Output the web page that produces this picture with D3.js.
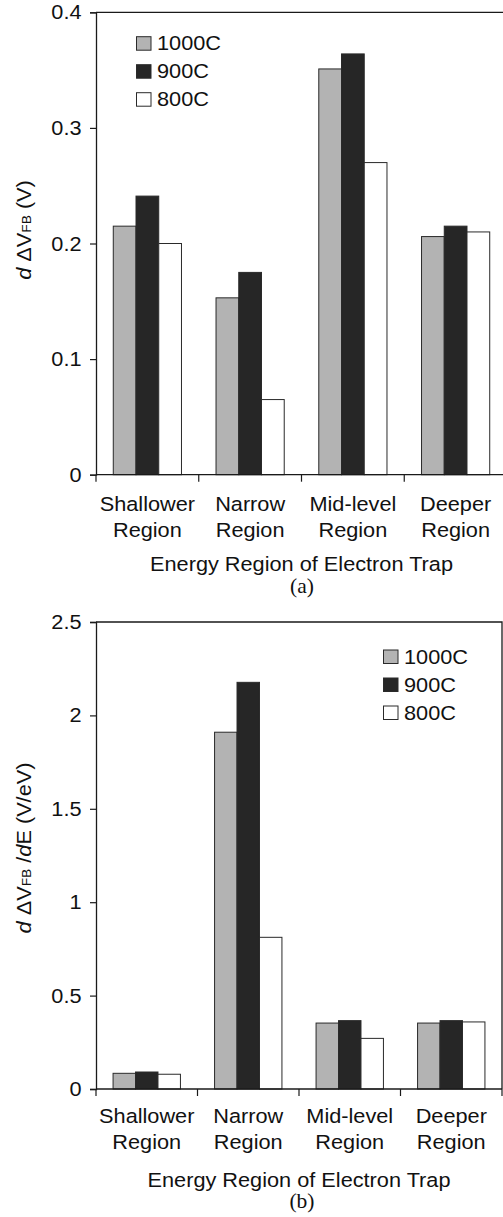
<!DOCTYPE html>
<html>
<head>
<meta charset="utf-8">
<script src="https://cdn.jsdelivr.net/npm/d3@7"></script>
<style>
  body { margin: 0; background: #fff; }
  svg text { font-family: "Liberation Sans", Arial, sans-serif; fill: #111; }
  .caption { font-family: "Liberation Serif", "Times New Roman", serif !important; }
</style>
</head>
<body>
<div id="chart"></div>
<script>
// categories and series
var categories = ["Shallower Region", "Narrow Region", "Mid-level Region", "Deeper Region"];
var series = ["1000C", "900C", "800C"];
var seriesColors = ["#b3b3b3", "#262626", "#ffffff"];

// panel (a) values: d dV_FB (V)
var valuesA_1000 = [0.215, 0.153, 0.351, 0.206];
var valuesA_900  = [0.241, 0.175, 0.364, 0.215];
var valuesA_800  = [0.200, 0.065, 0.270, 0.210];
var ticksA = [0, 0.1, 0.2, 0.3, 0.4];

// panel (b) values: d dV_FB / dE (V/eV)
var valuesB_1000 = [0.084, 1.91, 0.353, 0.353];
var valuesB_900  = [0.091, 2.177, 0.366, 0.366];
var valuesB_800  = [0.079, 0.812, 0.271, 0.359];
var ticksB = [0, 0.5, 1, 1.5, 2, 2.5];

var FS = "20.5px";   // font size
var SX = 1.06;       // the scan is a bit wide, stretch text horizontally

var svg = d3.select("#chart").append("svg")
    .attr("width", 503)
    .attr("height", 1217);

// puts a text at (x,y) with horizontal stretch
function placeText(sel, x, y) {
    return sel.attr("transform", "translate(" + x + "," + y + ") scale(" + SX + ",1)");
}

/**
 * draws one grouped bar panel
 */
function drawPanel(cfg) {
    var g = svg.append("g");

    var x0 = d3.scaleBand()
        .domain(categories)
        .range([cfg.left, cfg.right])
        .padding(0);

    var x1 = d3.scaleBand()
        .domain(series)
        .range([0, x0.bandwidth()])
        .paddingInner(0)
        .paddingOuter(0.76);

    var y = d3.scaleLinear()
        .domain([0, cfg.ticks[cfg.ticks.length - 1]])
        .range([cfg.bottom, cfg.top]);

    // rows of data per category
    var rows = categories.map(function (c, i) {
        return series.map(function (s, j) {
            return {cat: c, s: s, v: cfg.values[j][i], color: seriesColors[j]};
        });
    });

    // frame (top and right)
    g.append("path")
        .attr("d", "M" + cfg.left + "," + y(cfg.ticks[cfg.ticks.length - 1]) + "H" + cfg.right + "V" + cfg.bottom)
        .attr("fill", "none")
        .attr("stroke", "#1a1a1a")
        .attr("stroke-width", 1.3);

    // bars
    g.selectAll("g.cat").data(rows)
        .enter().append("g")
        .attr("transform", function (d) { return "translate(" + x0(d[0].cat) + ",0)"; })
        .selectAll("rect").data(function (d) { return d; })
        .enter().append("rect")
        .attr("x", function (d) { return x1(d.s); })
        .attr("width", x1.bandwidth())
        .attr("y", function (d) { return y(d.v); })
        .attr("height", function (d) { return cfg.bottom - y(d.v); })
        .attr("fill", function (d) { return d.color; })
        .attr("stroke", "#2a2a2a")
        .attr("stroke-width", 1);

    // y axis
    var yAxis = g.append("g")
        .attr("transform", "translate(" + cfg.left + ",0)")
        .call(d3.axisLeft(y).tickValues(cfg.ticks).tickFormat(function (d) { return String(d); }).tickSize(6).tickPadding(8));
    yAxis.select(".domain").attr("stroke", "#1a1a1a").attr("stroke-width", 1.3);
    yAxis.selectAll(".tick line").attr("stroke", "#1a1a1a").attr("stroke-width", 1.2);
    yAxis.selectAll("text")
        .style("font-size", FS)
        .attr("fill", "#111")
        .attr("x", -14.5 / SX)
        .attr("transform", "scale(" + SX + ",1)");

    // x axis: ticks at category boundaries
    var xAxis = g.append("g")
        .attr("transform", "translate(0," + cfg.bottom + ")");
    xAxis.append("line")
        .attr("x1", cfg.left).attr("x2", cfg.right)
        .attr("stroke", "#1a1a1a").attr("stroke-width", 1.3);
    var bounds = categories.map(function (c) { return x0(c); }).concat([cfg.right]);
    xAxis.selectAll("line.tk").data(bounds)
        .enter().append("line")
        .attr("class", "tk")
        .attr("x1", function (d) { return d; })
        .attr("x2", function (d) { return d; })
        .attr("y1", 0).attr("y2", 7)
        .attr("stroke", "#1a1a1a").attr("stroke-width", 1.2);

    var lab = g.selectAll("text.cat").data(categories)
        .enter().append("text")
        .attr("class", "cat")
        .attr("text-anchor", "middle")
        .style("font-size", FS)
        .attr("transform", function (d) {
            return "translate(" + (x0(d) + x0.bandwidth() / 2) + "," + cfg.catY + ") scale(" + SX + ",1)";
        });
    lab.append("tspan").attr("x", 0).text(function (d) { return d.split(" ")[0]; });
    lab.append("tspan")
        .attr("x", 0)
        .attr("dy", 26.5)
        .text(function (d) { return d.split(" ")[1]; });

    // x title
    placeText(g.append("text"), (cfg.left + cfg.right) / 2, cfg.titleY)
        .attr("text-anchor", "middle")
        .style("font-size", FS)
        .text("Energy Region of Electron Trap");

    g.append("text")
        .attr("class", "caption")
        .attr("x", 302)
        .attr("y", cfg.capY)
        .attr("text-anchor", "middle")
        .style("font-size", "21.5px")
        .text(cfg.caption);

    // y title
    var yt = g.append("text")
        .attr("transform", "translate(31," + cfg.ylabY + ") rotate(-90) scale(" + SX + ",1)")
        .attr("text-anchor", "middle")
        .style("font-size", FS);
    cfg.ylab.forEach(function (p) {
        var t = yt.append("tspan").text(p.t);
        if (p.i) t.style("font-style", "italic");
        if (p.sub) t.style("font-size", "13px");
    });

    // legend
    var leg = g.selectAll("g.leg").data(series)
        .enter().append("g")
        .attr("transform", function (d, i) { return "translate(" + cfg.legX + "," + (cfg.legY + i * 28) + ")"; });
    leg.append("rect")
        .attr("width", 14.5).attr("height", 13.5)
        .attr("fill", function (d, i) { return seriesColors[i]; })
        .attr("stroke", "#2a2a2a").attr("stroke-width", 1);
    placeText(leg.append("text"), 20.5, 13.5)
        .style("font-size", FS)
        .text(function (d) { return d; });
}

drawPanel({
    values: [valuesA_1000, valuesA_900, valuesA_800],
    ticks: ticksA,
    left: 96, right: 507, top: 12.3, bottom: 474.7,
    catY: 511, titleY: 570.7, capY: 593, caption: "(a)",
    ylabY: 230,
    ylab: [{t: "d", i: true}, {t: " \u0394V"}, {t: "FB", sub: true}, {t: " (V)"}],
    legX: 136.5, legY: 36.7
});

drawPanel({
    values: [valuesB_1000, valuesB_900, valuesB_800],
    ticks: ticksB,
    left: 96, right: 502, top: 622, bottom: 1089,
    catY: 1122.7, titleY: 1186.7, capY: 1208, caption: "(b)",
    ylabY: 848,
    ylab: [{t: "d", i: true}, {t: " \u0394V"}, {t: "FB", sub: true}, {t: " /"}, {t: "d", i: true}, {t: "E (V/eV)"}],
    legX: 383.5, legY: 650
});
</script>
</body>
</html>
